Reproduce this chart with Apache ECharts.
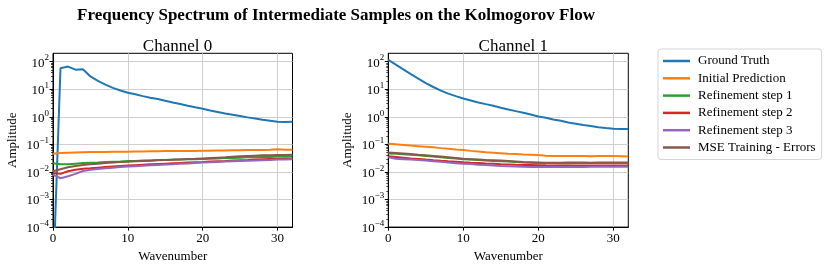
<!DOCTYPE html>
<html>
<head>
<meta charset="utf-8">
<script src="https://cdn.jsdelivr.net/npm/echarts@6/dist/echarts.min.js"></script>
<style>html,body{margin:0;padding:0;background:#fff}#c{width:831px;height:268px}</style>
</head>
<body>
<div id="c"></div>
<script>
// ---- data ----
const wavenumbers = [0,1,2,3,4,5,6,7,8,9,10,11,12,13,14,15,16,17,18,19,20,21,22,23,24,25,26,27,28,29,30,31,32];
const seriesNames = ['Ground Truth','Initial Prediction','Refinement step 1','Refinement step 2','Refinement step 3','MSE Training - Errors'];
const yTickExponents = [-4,-3,-2,-1,0,1,2];
const xTickLabels = [0,10,20,30];

// Channel 0
const groundTruth0 = [1e-6,57,66,51,53,29,20,14.7,11.2,9.0,7.4,6.5,5.6,4.9,4.4,3.8,3.3,2.9,2.5,2.2,1.95,1.7,1.5,1.32,1.18,1.06,0.95,0.87,0.78,0.72,0.66,0.64,0.66];
const initial0 = [0.046,0.049,0.050,0.051,0.052,0.053,0.053,0.053,0.054,0.054,0.054,0.055,0.055,0.056,0.056,0.057,0.057,0.058,0.058,0.058,0.059,0.059,0.060,0.060,0.061,0.061,0.062,0.062,0.063,0.064,0.066,0.064,0.064];
const refine1_0 = [0.0205,0.019,0.019,0.020,0.021,0.0217,0.022,0.023,0.0235,0.024,0.025,0.025,0.026,0.026,0.027,0.027,0.028,0.028,0.029,0.029,0.0295,0.030,0.031,0.032,0.032,0.033,0.034,0.034,0.035,0.035,0.036,0.036,0.037];
const refine2_0 = [0.0092,0.0085,0.0106,0.012,0.013,0.0136,0.0143,0.015,0.0157,0.0164,0.017,0.0176,0.0182,0.0188,0.0194,0.020,0.0206,0.0212,0.0218,0.0224,0.023,0.0237,0.0244,0.025,0.0258,0.0265,0.0272,0.028,0.0287,0.0294,0.030,0.0305,0.031];
const refine3_0 = [0.0080,0.0059,0.0070,0.0085,0.0108,0.012,0.0128,0.0136,0.0143,0.015,0.0157,0.0162,0.0168,0.0173,0.0179,0.0185,0.0191,0.0198,0.0204,0.0211,0.0218,0.0224,0.0231,0.0237,0.0244,0.025,0.0256,0.0261,0.0267,0.0273,0.028,0.0285,0.029];
const mse0 = [0.0106,0.0125,0.0147,0.0165,0.018,0.019,0.020,0.021,0.022,0.023,0.0236,0.0243,0.025,0.0257,0.0263,0.027,0.0277,0.0285,0.0293,0.030,0.031,0.032,0.033,0.034,0.0355,0.037,0.038,0.039,0.040,0.0405,0.041,0.0415,0.042];

// Channel 1
const groundTruth1 = [115,78,52,35,24,16.6,12,8.9,6.9,5.6,4.6,3.9,3.3,2.87,2.5,2.11,1.84,1.60,1.40,1.21,1.03,0.92,0.80,0.72,0.62,0.56,0.50,0.46,0.42,0.39,0.37,0.36,0.36];
const initial1 = [0.105,0.1,0.095,0.09,0.086,0.082,0.078,0.073,0.069,0.065,0.062,0.058,0.055,0.052,0.05,0.048,0.046,0.045,0.043,0.042,0.041,0.039,0.038,0.038,0.038,0.038,0.038,0.037,0.038,0.038,0.038,0.037,0.036];
const refine1_1 = [0.047,0.046,0.044,0.042,0.040,0.038,0.036,0.034,0.032,0.031,0.029,0.028,0.027,0.026,0.025,0.0245,0.024,0.023,0.022,0.0215,0.021,0.021,0.021,0.0205,0.0205,0.021,0.021,0.021,0.021,0.021,0.021,0.021,0.021];
const refine2_1 = [0.037,0.035,0.033,0.031,0.0295,0.028,0.0267,0.0255,0.0244,0.0234,0.0224,0.0216,0.0209,0.0202,0.0196,0.019,0.0186,0.0182,0.0179,0.0177,0.0175,0.0173,0.0172,0.0171,0.017,0.017,0.017,0.017,0.017,0.017,0.017,0.017,0.017];
const refine3_1 = [0.034,0.030,0.029,0.028,0.027,0.026,0.0246,0.0232,0.0219,0.0208,0.020,0.0192,0.0184,0.0177,0.0171,0.0165,0.016,0.0157,0.0154,0.0152,0.015,0.015,0.0151,0.0151,0.0152,0.0152,0.0152,0.0153,0.0153,0.0153,0.0153,0.0153,0.0153];
const mse1 = [0.051,0.049,0.047,0.045,0.042,0.040,0.038,0.036,0.034,0.032,0.030,0.029,0.028,0.027,0.0265,0.026,0.025,0.024,0.023,0.0225,0.022,0.0215,0.0215,0.0215,0.022,0.022,0.022,0.0215,0.022,0.022,0.022,0.022,0.022];

const channel0 = [groundTruth0, initial0, refine1_0, refine2_0, refine3_0, mse0];
const channel1 = [groundTruth1, initial1, refine1_1, refine2_1, refine3_1, mse1];
const colors = ['#1f77b4','#ff7f0e','#2ca02c','#d62728','#9467bd','#8c564b'];

// ---- chart ----
const FONT = '"Liberation Serif", "DejaVu Serif", serif';
const LBL = 13;
const TTL = 17;
const chart = echarts.init(document.getElementById('c'), null, {renderer: 'canvas'});

const minorTicks = [];
for (let e = -4; e <= 2; e++) for (let m = 2; m <= 9; m++) { const v = m * Math.pow(10, e); if (v < 200) minorTicks.push(v); }
const majorTicks = yTickExponents.map(e => Math.pow(10, e));

function supLabel(v) {
  const l = Math.log10(v);
  const e = Math.round(l);
  if (Math.abs(l - e) > 1e-6 || yTickExponents.indexOf(e) < 0) return '';
  const es = e < 0 ? '\u2212' + (-e) : String(e);
  return '{b|10}{e|' + es + '}';
}

const grids = [
  {left: 53, width: 239.5, top: 53.3, height: 174.4},
  {left: 388.3, width: 240, top: 53.3, height: 174.4}
];

function xAxis(i) {
  return {
    type: 'value', gridIndex: i, min: 0, max: 32, interval: 10,
    name: 'Wavenumber', nameLocation: 'middle', nameGap: 21,
    nameTextStyle: {fontFamily: FONT, fontSize: LBL, color: '#000'},
    axisLine: {show: true, lineStyle: {color: '#000', width: 1}},
    axisTick: {show: true, inside: false, length: 3.5, lineStyle: {color: '#000'}, customValues: xTickLabels},
    axisLabel: {show: true, fontFamily: FONT, fontSize: LBL, color: '#000', margin: 5,
      customValues: xTickLabels},
    splitLine: {show: true, lineStyle: {color: '#cfcfcf', width: 1}}
  };
}
function yAxis(i) {
  return {
    type: 'log', logBase: 10, gridIndex: i, min: 1e-4, max: 200,
    name: 'Amplitude', nameLocation: 'middle', nameGap: 34, nameRotate: 90,
    nameTextStyle: {fontFamily: FONT, fontSize: LBL, color: '#000'},
    axisLine: {show: true, lineStyle: {color: '#000', width: 1}},
    axisTick: {show: true, inside: false, length: 3.5, lineStyle: {color: '#000'}, customValues: majorTicks},
    axisLabel: {show: true, margin: 4, formatter: supLabel, customValues: majorTicks,
      rich: {
        b: {fontFamily: FONT, fontSize: LBL, color: '#000', lineHeight: 16, verticalAlign: 'bottom'},
        e: {fontFamily: FONT, fontSize: 9, color: '#000', lineHeight: 8, verticalAlign: 'top'}
      }},
    splitLine: {show: true, lineStyle: {color: '#cfcfcf', width: 1}}
  };
}
function yMinorAxis(i) {
  return {
    type: 'log', logBase: 10, gridIndex: i, min: 1e-4, max: 200, position: 'left',
    axisLine: {show: false},
    axisTick: {show: true, inside: false, length: 2, lineStyle: {color: '#000', width: 0.7}, customValues: minorTicks},
    axisLabel: {show: false},
    splitLine: {show: false}
  };
}

const series = [];
[channel0, channel1].forEach((ch, gi) => {
  ch.forEach((vals, si) => {
    series.push({
      name: seriesNames[si], type: 'line', xAxisIndex: gi, yAxisIndex: gi,
      data: wavenumbers.map((w, k) => [w, vals[k]]),
      showSymbol: false, symbol: 'none', clip: true,
      lineStyle: {color: colors[si], width: 2},
      itemStyle: {color: colors[si]},
      z: 2 + si, animation: false
    });
  });
});

chart.setOption({
  animation: false,
  backgroundColor: '#fff',
  color: colors,
  title: [
    {text: 'Frequency Spectrum of Intermediate Samples on the Kolmogorov Flow', left: 331, top: 2, textAlign: 'center',
      textStyle: {fontFamily: FONT, fontSize: TTL, fontWeight: 'bold', color: '#000'}},
    {text: 'Channel 0', left: 172.5, top: 33, textAlign: 'center',
      textStyle: {fontFamily: FONT, fontSize: TTL, fontWeight: 'normal', color: '#000'}},
    {text: 'Channel 1', left: 508.3, top: 33, textAlign: 'center',
      textStyle: {fontFamily: FONT, fontSize: TTL, fontWeight: 'normal', color: '#000'}}
  ],
  grid: grids.map(g => Object.assign({show: true, borderColor: '#000', borderWidth: 1, backgroundColor: 'transparent', containLabel: false}, g)),
  xAxis: [xAxis(0), xAxis(1)],
  yAxis: [yAxis(0), yAxis(1), yMinorAxis(0), yMinorAxis(1)],
  legend: {
    orient: 'vertical', left: 658, top: 49, padding: [5, 6, 5, 5],
    data: seriesNames,
    icon: 'rect', itemWidth: 27, itemHeight: 2.5, itemGap: 3.3,
    borderColor: '#d5d5d5', borderWidth: 1, borderRadius: 3,
    textStyle: {fontFamily: FONT, fontSize: LBL, color: '#000', lineHeight: 14, padding: [0, 0, 0, 3]}
  },
  series: series
});
</script>
</body>
</html>
